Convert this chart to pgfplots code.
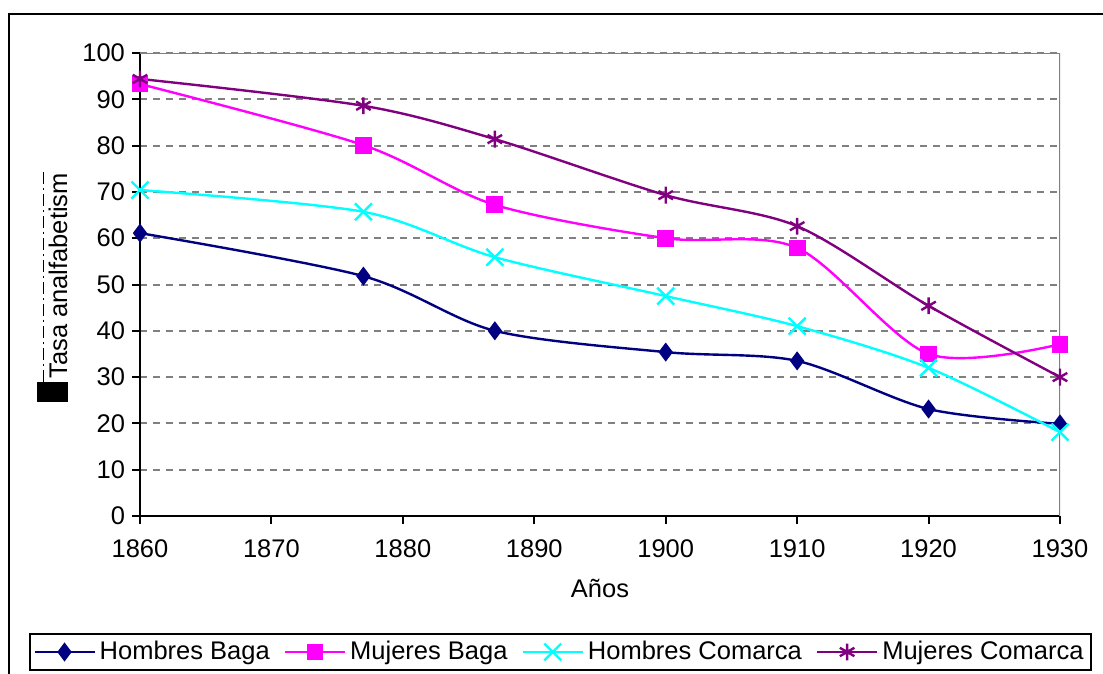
\documentclass[border=0pt]{standalone}
\usepackage{fontspec}
\setmainfont{Liberation Sans}
\usepackage{pgfplots}
\pgfplotsset{compat=1.18}
\definecolor{hb}{RGB}{0,0,128}
\definecolor{mb}{RGB}{255,0,255}
\definecolor{hc}{RGB}{0,255,255}
\definecolor{mc}{RGB}{128,0,128}
\definecolor{gridgray}{RGB}{128,128,128}
\begin{document}
\begin{tikzpicture}
\useasboundingbox (0,0) rectangle (551.5pt,-337pt);
\draw[line width=1.1pt] (4.5pt,-345pt) -- (4.5pt,-7pt) -- (560pt,-7pt);
\begin{axis}[
  at={(70pt,-258pt)}, anchor=south west,
  scale only axis, width=460pt, height=231.5pt,
  xmin=1860, xmax=1930, ymin=0, ymax=100,
  xtick={1860,1870,...,1930}, ytick={0,10,...,100},
  axis x line*=bottom, axis y line*=left,
  axis line style={-, line width=1pt, black},
  ymajorgrids, grid style={gridgray, line width=1pt, dash pattern=on 3.5pt off 3pt},
  tick align=outside, major tick length=4pt, tick style={black, line width=1pt},
  /pgf/number format/assume math mode=true,
  /pgf/number format/1000 sep={},
  ticklabel style={font=\fontsize{12.75}{15}\selectfont},
  xticklabel style={yshift=-4.5pt},
  xlabel={Años}, xlabel style={font=\fontsize{12.75}{15}\selectfont, yshift=-3.5pt},
  legend columns=4,
  legend style={at={(0.457,-0.2937)}, anchor=center, draw=black, line width=1pt,
    font=\fontsize{12.75}{15}\selectfont, inner sep=1.5pt,
    /tikz/every even column/.append style={column sep=5pt},
    nodes={inner sep=2pt}},
  legend image code/.code={\draw[mark repeat=2, mark phase=2] plot coordinates {(0pt,0pt) (15pt,0pt) (30pt,0pt)};},
]
\draw[gridgray, line width=1pt] (rel axis cs:0,1) -- (rel axis cs:1,1) -- (rel axis cs:1,0);
\addplot[hb, line width=1.2pt, smooth, mark=diamond*, mark size=3.8pt, mark options={solid}] coordinates {
 (1860,61.1) (1877,51.8) (1887,40.0) (1900,35.4) (1910,33.5) (1920,23.1) (1930,19.9)};
\addlegendentry{Hombres Baga}
\addplot[mb, line width=1.2pt, smooth, mark=square*, mark size=3.6pt] coordinates {
 (1860,93.3) (1877,80.1) (1887,67.2) (1900,60.0) (1910,57.9) (1920,35.0) (1930,37.1)};
\addlegendentry{Mujeres Baga}
\addplot[hc, line width=1.2pt, smooth, mark=x, mark size=6pt] coordinates {
 (1860,70.4) (1877,65.7) (1887,55.9) (1900,47.5) (1910,41.0) (1920,32.0) (1930,18.1)};
\addlegendentry{Hombres Comarca}
\addplot[mc, line width=1.2pt, smooth, mark=asterisk, mark size=4.2pt] coordinates {
 (1860,94.4) (1877,88.6) (1887,81.4) (1900,69.3) (1910,62.6) (1920,45.4) (1930,30.0)};
\addlegendentry{Mujeres Comarca}
\end{axis}
\draw[line width=0.5pt, dash pattern=on 6pt off 2pt on 1pt off 2pt] (21.5pt,-191pt) -- (21.5pt,-86pt);
\fill (18.5pt,-191pt) rectangle (34pt,-201pt);
\node[rotate=90, anchor=west, font=\fontsize{12.75}{15}\selectfont, inner sep=0pt] at (29pt,-189.5pt) {Tasa analfabetism};
\end{tikzpicture}
\end{document}
